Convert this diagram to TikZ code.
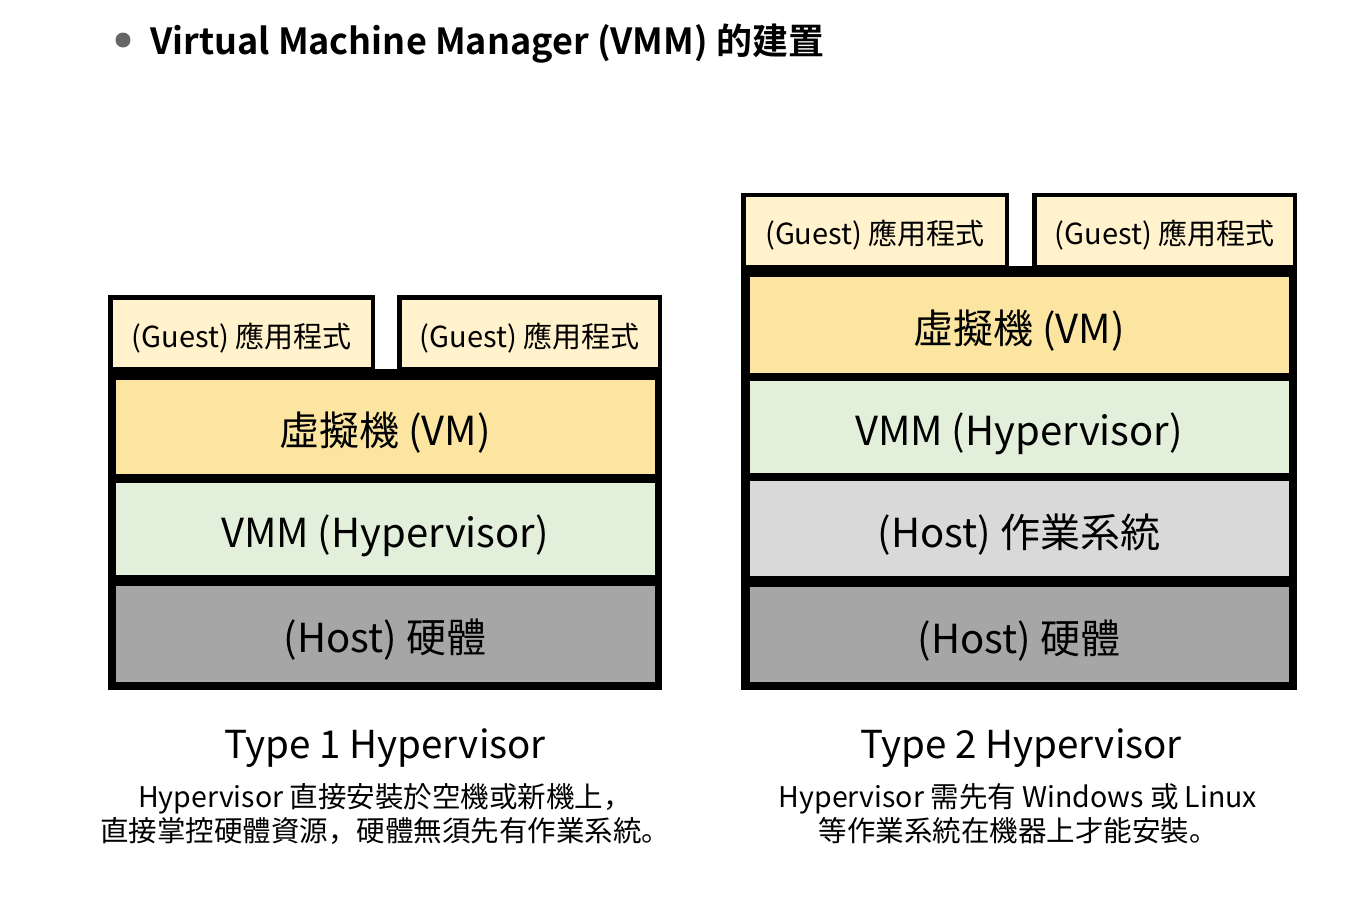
\documentclass[tikz,border=0pt]{standalone}
\usepackage{fontspec}
\newfontfamily\jpfont{Noto Sans CJK JP}
\newfontfamily\tcfont{Noto Sans CJK TC}[BoldFont={* Bold}]
\definecolor{guestc}{HTML}{FFF2CC}
\definecolor{vmc}{HTML}{FBE5A1}
\definecolor{vmmc}{HTML}{E2EFDA}
\definecolor{osc}{HTML}{D9D9D9}
\definecolor{hwc}{HTML}{A6A6A6}
\definecolor{bulletc}{HTML}{666666}
\tikzset{
  guestbox/.style={draw=black, line width=4.5pt, fill=guestc, inner sep=0pt,
    minimum height=72pt, text height=30pt, text depth=2.5pt, font=\jpfont\fontsize{29}{32}\selectfont},
  layerbox/.style={fill=#1, inner sep=0pt, minimum width=539pt, text height=40pt, text depth=3pt,
    font=\jpfont\fontsize{40}{44}\selectfont},
  titletext/.style={font=\jpfont\fontsize{38.5}{42}\selectfont},
  desctext/.style={font=\jpfont\fontsize{28.5}{34}\selectfont, align=center},
}
\begin{document}
\begin{tikzpicture}[x=1pt,y=-1pt]
\useasboundingbox (0,0) rectangle (1364,918);
% heading
\fill[bulletc] (123,40) circle (7.5);
\node[anchor=base west, inner sep=0pt, font=\tcfont\bfseries\fontsize{36}{40}\selectfont] (head) at (150,54) {Virtual Machine Manager (VMM) 的建置};

% ---------- Type 1 ----------
\fill[black] (108,369) rectangle (662,690);
\node[layerbox=vmc, minimum height=94pt] (vm1) at (385,427) {虛擬機 (VM)};
\node[layerbox=vmmc, minimum height=92pt] (vmm1) at (385,529) {VMM (Hypervisor)};
\node[layerbox=hwc, minimum height=96pt] (hw1) at (385,634) {(Host) 硬體};
\node[guestbox, minimum width=262.5pt] (g1a) at (241.5,333.5) {(Guest) 應用程式};
\node[guestbox, minimum width=260.5pt] (g1b) at (529.5,333.5) {(Guest) 應用程式};
\node[titletext] (t1) at (385,748) {Type 1 Hypervisor};
\node[desctext] (d1) at (385,814) {Hypervisor 直接安裝於空機或新機上，\\直接掌控硬體資源，硬體無須先有作業系統。};

% ---------- Type 2 ----------
\fill[black] (741,266) rectangle (1297,690);
\node[layerbox=vmc, minimum height=96pt] (vm2) at (1019,325) {虛擬機 (VM)};
\node[layerbox=vmmc, minimum height=92pt] (vmm2) at (1019,427) {VMM (Hypervisor)};
\node[layerbox=osc, minimum height=95pt] (os2) at (1019,528.5) {(Host) 作業系統};
\node[layerbox=hwc, minimum height=95pt] (hw2) at (1019,634.5) {(Host) 硬體};
\node[guestbox, minimum width=263.5pt] (g2a) at (875,231) {(Guest) 應用程式};
\node[guestbox, minimum width=260.5pt] (g2b) at (1164.5,231) {(Guest) 應用程式};
\node[titletext] (t2) at (1021,748) {Type 2 Hypervisor};
\node[desctext] (d2) at (1018,814) {Hypervisor 需先有 Windows 或 Linux\\等作業系統在機器上才能安裝。};
\end{tikzpicture}
\end{document}
